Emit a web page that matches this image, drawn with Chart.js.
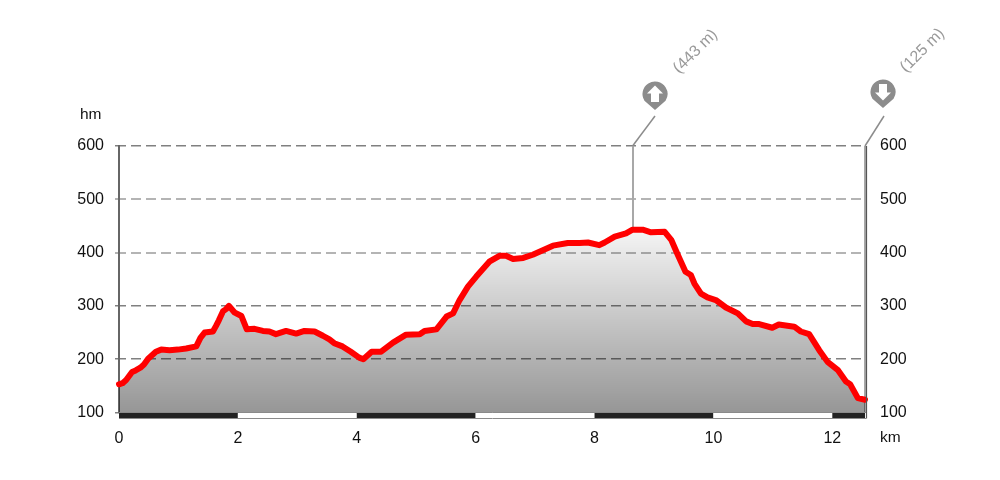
<!DOCTYPE html>
<html><head><meta charset="utf-8">
<script src="https://cdn.jsdelivr.net/npm/chart.js@4"></script>
<style>html,body{margin:0;padding:0;background:#fff}#w{width:1000px;height:480px}</style>
</head><body><div id="w"><canvas id="c" width="1000" height="480"></canvas></div>
<script>
const distancesKm=[0,.06,.12,.22,.28,.36,.42,.49,.62,.71,.85,.99,1.13,1.3,1.37,1.44,1.58,1.63,1.68,1.75,1.8,1.85,1.94,2.06,2.15,2.28,2.42,2.53,2.64,2.81,2.98,3.12,3.29,3.43,3.54,3.62,3.76,3.9,4.04,4.11,4.25,4.41,4.61,4.83,5.06,5.14,5.34,5.51,5.62,5.73,5.87,6.01,6.23,6.4,6.51,6.63,6.8,6.96,7.3,7.55,7.75,7.89,8.08,8.17,8.34,8.53,8.64,8.81,8.95,9.18,9.29,9.4,9.53,9.62,9.68,9.79,9.9,10.04,10.21,10.41,10.55,10.66,10.77,10.99,11.1,11.36,11.47,11.61,11.78,11.92,12.09,12.23,12.3,12.43,12.55];
const elevations=[153,155,161,176,179,184,190,201,214,218,217,218,220,224,240,250,252,262,273,290,294,300,288,281,256,257,253,252,247,253,248,253,252,244,237,230,224,214,203,200,214,214,231,246,247,253,256,280,286,311,336,355,383,394,394,388,390,396,413,418,418,419,414,419,430,436,443,443,438,439,424,396,364,358,342,323,316,311,297,286,271,266,266,259,265,261,252,247,217,195,180,158,153,127,124];
const yTicks=[100,200,300,400,500,600];
const xTicks=[0,2,4,6,8,10,12];
const yUnit='hm', xUnit='km';
const bandEdges=[0,2,4,6,8,10,12,12.55];
const bandColors=['#222222','#ffffff','#222222','#ffffff','#222222','#ffffff','#222222'];
const markers=[{km:8.64,top:443,dir:'up',label:'(443 m)'},{km:12.55,top:600,dir:'down',label:'(125 m)'}];
const FONT='"Liberation Sans", Arial, sans-serif';

const overlay={
  id:'overlay',
  beforeDatasetsDraw(ch){
    const c=ch.ctx,x=ch.scales.x,y=ch.scales.y;
    markers.forEach(m=>{
      const px=Math.round(x.getPixelForValue(m.km));
      c.save();c.strokeStyle='#a8a8a8';c.lineWidth=2;
      c.beginPath();c.moveTo(px,146);c.lineTo(px,y.getPixelForValue(m.top===600?100:m.top));c.stroke();c.restore();
    });
  },
  afterDatasetsDraw(ch){
    const c=ch.ctx,x=ch.scales.x,y=ch.scales.y,b=y.getPixelForValue(100);
    c.save();
    for(let i=0;i<bandColors.length;i++){
      const a=x.getPixelForValue(bandEdges[i]),e=x.getPixelForValue(bandEdges[i+1]);
      c.fillStyle=bandColors[i];c.fillRect(a,b,e-a,5.5);
    }
    c.strokeStyle='#8a8a8a';c.lineWidth=1;
    c.beginPath();c.moveTo(119,b);c.lineTo(866,b);c.moveTo(119,b+6);c.lineTo(866,b+6);c.stroke();
    c.strokeStyle='#555';c.lineWidth=1.2;c.beginPath();c.moveTo(866.5,146);c.lineTo(866.5,b+6);c.stroke();
    c.fillStyle='#111';c.font='15.5px '+FONT;c.textBaseline='middle';c.textAlign='left';
    c.fillText(yUnit,80,115);c.fillText(xUnit,880,438);
    markers.forEach((m,i)=>{
      const px=x.getPixelForValue(m.km),up=m.dir==='up';
      const cx=up?655:883,cy=up?94:92;
      c.strokeStyle='#8c8c8c';c.lineWidth=1.5;
      c.beginPath();c.moveTo(px,146);c.lineTo(cx+(up?0:1),116);c.stroke();
      c.fillStyle='#8c8c8c';c.beginPath();c.arc(cx,cy,12.5,Math.PI*.82,Math.PI*.18);
      c.lineTo(cx,cy+16);c.closePath();c.fill();
      c.fillStyle='#fff';c.beginPath();
      const s=up?-1:1;
      c.moveTo(cx,cy+s*8.5);c.lineTo(cx+8,cy+s*.5);c.lineTo(cx+4,cy+s*.5);c.lineTo(cx+4,cy-s*8);
      c.lineTo(cx-4,cy-s*8);c.lineTo(cx-4,cy+s*.5);c.lineTo(cx-8,cy+s*.5);c.closePath();c.fill();
      c.save();c.translate(up?676:903,up?71:70);c.rotate(-Math.PI/4);
      c.fillStyle='#9a9a9a';c.font='16px '+FONT;c.textAlign='left';c.textBaseline='middle';
      c.fillText(m.label,0,0);c.restore();
    });
    c.restore();
  }
};

const ctx=document.getElementById('c').getContext('2d');
const grad=ctx.createLinearGradient(0,228,0,413);
grad.addColorStop(0,'rgba(0,0,0,0.04)');
grad.addColorStop(1,'rgba(0,0,0,0.41)');
const tickFont={family:FONT,size:16};
const softLine=v=>v===400||v===500;
new Chart(ctx,{
  type:'line',
  data:{datasets:[{data:distancesKm.map((d,i)=>({x:d,y:elevations[i]})),borderColor:'#ff0000',borderWidth:6,
    backgroundColor:grad,fill:'origin',pointRadius:0,tension:0,borderJoinStyle:'round',borderCapStyle:'round',clip:false}]},
  options:{
    responsive:false,animation:false,
    layout:{padding:{top:146,left:0,right:0,bottom:0}},
    plugins:{legend:{display:false},tooltip:{enabled:false}},
    scales:{
      x:{type:'linear',min:0,max:12.55,
        afterBuildTicks:s=>{s.ticks=xTicks.map(v=>({value:v}));},
        ticks:{font:tickFont,color:'#111',maxRotation:0,padding:16,autoSkip:false,callback:v=>String(v)},
        grid:{display:false,drawTicks:false},border:{display:false},
        afterFit:s=>{s.height=67.5;}},
      y:{min:100,max:600,
        afterBuildTicks:s=>{s.ticks=yTicks.map(v=>({value:v}));},
        ticks:{font:tickFont,color:'#111',padding:11},
        grid:{color:c=>softLine(c.tick&&c.tick.value)?'#b4b4b4':'#808080',
              lineWidth:c=>softLine(c.tick&&c.tick.value)?2:1.5,
              drawTicks:true,tickLength:4,tickBorderDash:[]},
        border:{color:'#666',width:2,dash:[10,5],dashOffset:4},
        afterFit:s=>{s.width=119;}},
      y2:{position:'right',min:100,max:600,
        afterBuildTicks:s=>{s.ticks=yTicks.map(v=>({value:v}));},
        ticks:{font:tickFont,color:'#111',padding:15},
        grid:{display:false,drawTicks:false},border:{color:'#a8a8a8',width:1},
        afterFit:s=>{s.width=135;}}
    }
  },
  plugins:[overlay]
});
</script></body></html>
